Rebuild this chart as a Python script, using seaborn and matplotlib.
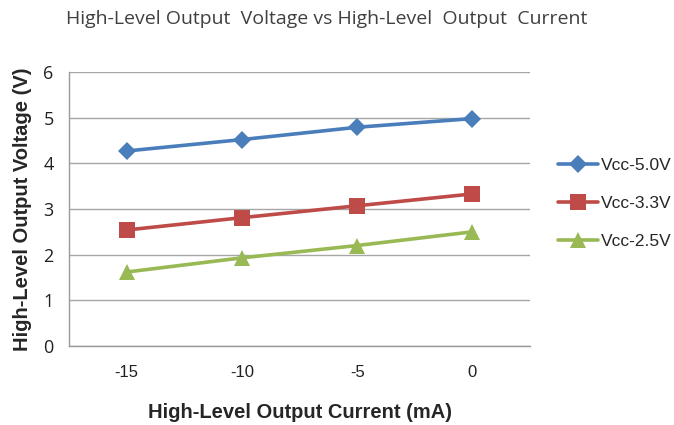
import matplotlib
matplotlib.use("Agg")
import matplotlib.pyplot as plt
import seaborn as sns
import pandas as pd

# data
current = ["-15", "-10", "-5", "0"]
vcc_50 = [4.27, 4.52, 4.79, 4.98]
vcc_33 = [2.54, 2.81, 3.07, 3.33]
vcc_25 = [1.62, 1.93, 2.20, 2.50]
series = ["Vcc-5.0V", "Vcc-3.3V", "Vcc-2.5V"]

df = pd.DataFrame({
    "current": current * 3,
    "voltage": vcc_50 + vcc_33 + vcc_25,
    "series": [s for s in series for _ in current],
})
df["pos"] = df["current"].map({c: i for i, c in enumerate(current)})

colors = ["#4a7ebb", "#be4b48", "#98b954"]
markers = ["D", "s", "^"]
msizes = [9, 11, 11]

sns.set_style("white")
fig = plt.figure(figsize=(6.74, 4.25), dpi=100)
ax = fig.add_axes([0.1024, 0.1859, 0.6840, 0.6447])

for s, c, m, ms in zip(series, colors, markers, msizes):
    sub = df[df["series"] == s]
    sns.lineplot(data=sub, x="pos", y="voltage", ax=ax, color=c, marker=m,
                 markersize=ms, markeredgewidth=0, linewidth=2.6, label=s)

ax.set_xlim(-0.5, 3.5)
ax.set_ylim(0, 6)
ax.set_yticks(range(0, 7))
ax.set_xticks(range(len(current)))
ax.set_xticklabels(current)
ax.set_xticks([-0.5, 0.5, 1.5, 2.5, 3.5], minor=True)
ax.tick_params(axis="x", which="major", length=0, pad=14,
               labelsize=12, labelcolor="#222222")
ax.tick_params(axis="x", which="minor", length=5, color="#999999", width=1)
ax.tick_params(axis="y", length=5, color="#999999", labelsize=13,
               labelcolor="#222222", pad=6)
for lbl in ax.get_yticklabels():
    lbl.set_family("Open Sans")
for lbl in ax.get_xticklabels():
    lbl.set_family("Liberation Sans")

ax.grid(axis="y", color="#a6a6a6", linewidth=1)
ax.grid(axis="x", visible=False)
for side in ["top", "right"]:
    ax.spines[side].set_visible(False)
for side in ["left", "bottom"]:
    ax.spines[side].set_color("#999999")
    ax.spines[side].set_linewidth(1)

ax.set_xlabel("High-Level Output Current (mA)", fontsize=14.5, fontweight="bold",
              family="Liberation Sans", labelpad=16)
ax.set_ylabel("High-Level Output Voltage (V)", fontsize=14.5, fontweight="bold",
              family="Liberation Sans", labelpad=8)

fig.text(0.485, 0.955, "High-Level Output  Voltage vs High-Level  Output  Current",
         ha="center", va="center", fontsize=14, family="Open Sans",
         color="#404040")

ax.legend(loc="center left", bbox_to_anchor=(1.045, 0.52), frameon=False,
          prop={"family": "Liberation Sans", "size": 12.5},
          handlelength=2.3, handletextpad=0.2, labelspacing=1.3,
          borderaxespad=0)

fig.savefig("out.png", dpi=100)
